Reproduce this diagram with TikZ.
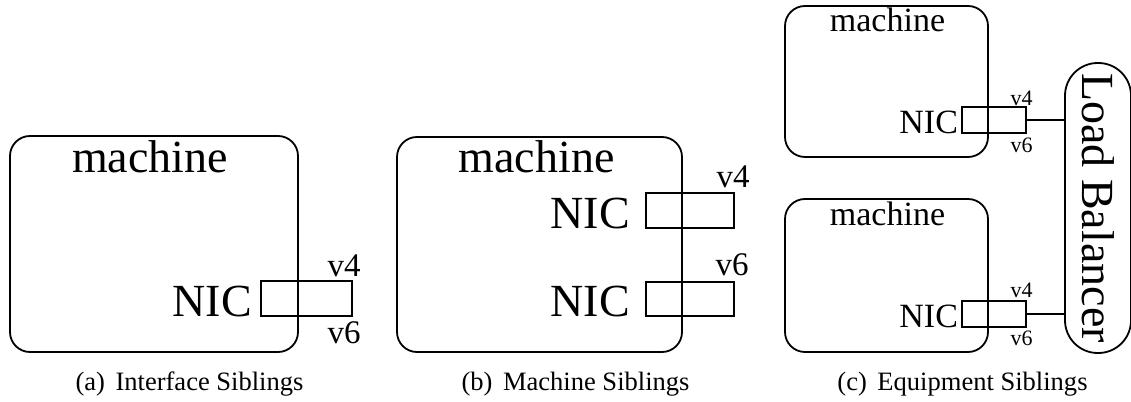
\documentclass[tikz,border=0pt]{standalone}
\usepackage{fontspec}
\setmainfont{Liberation Serif}
\usetikzlibrary{positioning}

\newcommand{\hugesz}{\fontsize{34.5}{36}\selectfont}
\newcommand{\midsz}{\fontsize{25.5}{27}\selectfont}
\newcommand{\vsz}{\fontsize{24.75}{26}\selectfont}
\newcommand{\vsmallsz}{\fontsize{16.5}{18}\selectfont}
\newcommand{\capsz}{\fontsize{19.9}{22}\selectfont}

\tikzset{
  machinebox/.style={draw, line width=1.35pt, rounded corners=15pt, inner sep=0pt},
  nicbox/.style={draw, line width=1.2pt, inner sep=0pt},
  lbbox/.style={draw, line width=1.35pt, rounded corners=24.5pt, inner sep=0pt, font=\hugesz},
  wire/.style={line width=1.2pt},
  lab/.style={inner sep=0pt},
}

\begin{document}
\begin{tikzpicture}[x=0.75pt, y=-0.75pt]
\useasboundingbox (0,0) rectangle (1131,402);

% (a)
\node[machinebox, minimum width=216pt, minimum height=162pt] (macA) at (154,244) {};
\node[lab, font=\hugesz, anchor=base] (macAtxt) at ([shift={(-4,37)}]macA.north) {machine};
\node[nicbox, minimum width=68.25pt, minimum height=26.25pt] (nicA) at (306.5,298.5) {};
\node[lab, font=\hugesz, anchor=base east] (nicAtxt) at ([shift={(-8,0)}]nicA.south west) {NIC};
\node[lab, font=\vsz, anchor=base east] (vfourA) at ([shift={(8,-4)}]nicA.north east) {v4};
\node[lab, font=\vsz, anchor=base east] (vsixA) at ([shift={(8,27)}]nicA.south east) {v6};
\node[lab, font=\capsz, anchor=base] (capA) at (189.5,390) {(a)\hspace{0.4em}Interface Siblings};

% (b)
\node[machinebox, minimum width=213.75pt, minimum height=161.25pt] (macB) at (539.5,244.5) {};
\node[lab, font=\hugesz, anchor=base] (macBtxt) at ([shift={(-3,36)}]macB.north) {machine};
\node[nicbox, minimum width=66pt, minimum height=26.25pt] (nicB) at (690,210.5) {};
\node[nicbox, minimum width=66pt, minimum height=25.5pt] (nicBB) at (690,299) {};
\node[lab, font=\hugesz, anchor=base east] (nicBtxt) at ([shift={(-15,0)}]nicB.south west) {NIC};
\node[lab, font=\hugesz, anchor=base east] (nicBBtxt) at ([shift={(-15,0)}]nicBB.south west) {NIC};
\node[lab, font=\vsz, anchor=base east] (vfourB) at ([shift={(15,-5)}]nicB.north east) {v4};
\node[lab, font=\vsz, anchor=base east] (vsixB) at ([shift={(14,-6)}]nicBB.north east) {v6};
\node[lab, font=\capsz, anchor=base] (capB) at (575.5,390) {(b)\hspace{0.4em}Machine Siblings};

% (c)
\node[machinebox, minimum width=152.25pt, minimum height=113.25pt] (macC) at (886.5,81.5) {};
\node[machinebox, minimum width=152.25pt, minimum height=114.75pt] (macCC) at (886.5,275.5) {};
\node[lab, font=\midsz, anchor=base] (macCtxt) at ([shift={(1,26)}]macC.north) {machine};
\node[lab, font=\midsz, anchor=base] (macCCtxt) at ([shift={(1,27)}]macCC.north) {machine};
\node[nicbox, minimum width=48pt, minimum height=19.5pt] (nicC) at (994,120) {};
\node[nicbox, minimum width=48pt, minimum height=19.5pt] (nicCC) at (994,314) {};
\node[lab, font=\midsz, anchor=base east] (nicCtxt) at ([shift={(-3,0)}]nicC.south west) {NIC};
\node[lab, font=\midsz, anchor=base east] (nicCCtxt) at ([shift={(-3,0)}]nicCC.south west) {NIC};
\node[lab, font=\vsmallsz, anchor=base east] (vfourC) at ([shift={(6,-1)}]nicC.north east) {v4};
\node[lab, font=\vsmallsz, anchor=base east] (vsixC) at ([shift={(6,19)}]nicC.south east) {v6};
\node[lab, font=\vsmallsz, anchor=base east] (vfourCC) at ([shift={(6,-3)}]nicCC.north east) {v4};
\node[lab, font=\vsmallsz, anchor=base east] (vsixCC) at ([shift={(6,18)}]nicCC.south east) {v6};
\node[lbbox, rotate=-90, minimum width=217.5pt, minimum height=49.5pt] (lb) at (1098,208) {Load Balancer};
\draw[wire] (nicC.east) -- (nicC.east -| lb.south);
\draw[wire] (nicCC.east) -- (nicCC.east -| lb.south);
\node[lab, font=\capsz, anchor=base] (capC) at (962.5,390) {(c)\hspace{0.4em}Equipment Siblings};
\end{tikzpicture}
\end{document}
